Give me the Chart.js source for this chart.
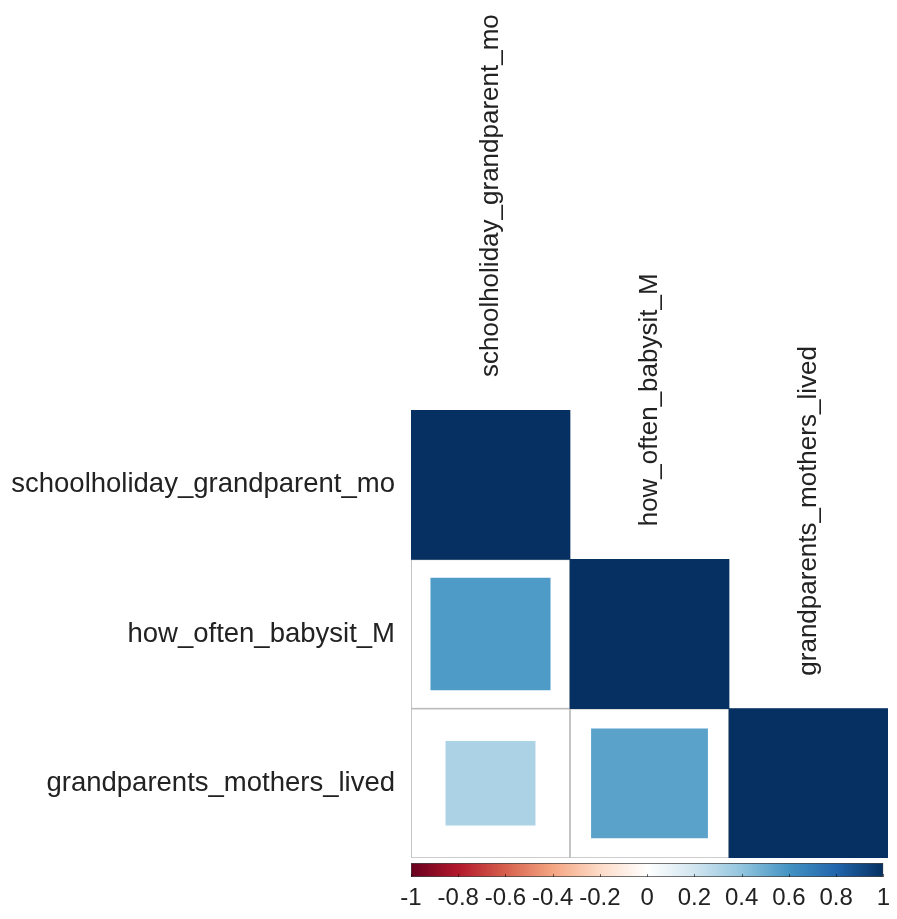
<!DOCTYPE html>
<html>
<head>
<meta charset="utf-8">
<script src="https://cdn.jsdelivr.net/npm/chart.js@4"></script>
<style>
  html, body { margin: 0; padding: 0; background: #fff; }
  #wrap { position: relative; width: 897px; height: 919px; }
  #matrixBox { position: absolute; left: 0; top: 0; width: 897px; height: 860px; }
  #barBox { position: absolute; left: 0; top: 858px; width: 897px; height: 61px; }
</style>
</head>
<body>
<div id="wrap">
  <div id="matrixBox"><canvas id="matrix"></canvas></div>
  <div id="barBox"><canvas id="colorbar"></canvas></div>
</div>
<script>
// variable names (rows top to bottom, columns left to right)
const vars = ["schoolholiday_grandparent_mo", "how_often_babysit_M", "grandparents_mothers_lived"];

// lower triangle of the correlation matrix, one row per variable
const corrRow1 = [1];
const corrRow2 = [0.57, 1];
const corrRow3 = [0.32, 0.54, 1];
const corrRows = [corrRow1, corrRow2, corrRow3];

// colour bar
const colorTicks = [-1, -0.8, -0.6, -0.4, -0.2, 0, 0.2, 0.4, 0.6, 0.8, 1];
const rdbu = ["#67001F", "#B2182B", "#D6604D", "#F4A582", "#FDDBC7", "#FFFFFF",
              "#D1E5F0", "#92C5DE", "#4393C3", "#2166AC", "#053061"];

const fontFamily = "'Liberation Sans', Arial, sans-serif";
const textColor = "#222";

function hexToRgb(h) {
  return [parseInt(h.slice(1, 3), 16), parseInt(h.slice(3, 5), 16), parseInt(h.slice(5, 7), 16)];
}

// map r in [-1, 1] onto the RdBu palette
function corrColor(r) {
  const pos = (r + 1) / 2 * (rdbu.length - 1);
  const i = Math.min(Math.floor(pos), rdbu.length - 2);
  const t = pos - i;
  const a = hexToRgb(rdbu[i]), b = hexToRgb(rdbu[i + 1]);
  const c = a.map((v, k) => Math.round(v + (b[k] - v) * t));
  return "rgb(" + c.join(",") + ")";
}

// cell backgrounds with grey borders, one dataset per column
const datasets = [];
vars.forEach((v, j) => {
  datasets.push({
    label: "cell " + j,
    data: vars.map((w, i) => i >= j ? [j - 0.5, j + 0.5] : null),
    backgroundColor: "#fff",
    borderColor: "#bdbdbd",
    borderWidth: 1.2,
    borderSkipped: false,
    barPercentage: 1,
    categoryPercentage: 1,
    grouped: false,
    order: 2
  });
});

// squares, side proportional to sqrt(|r|)
corrRows.forEach((row, i) => {
  row.forEach((r, j) => {
    const s = Math.sqrt(Math.abs(r));
    datasets.push({
      label: vars[i] + " / " + vars[j],
      data: vars.map((w, k) => k === i ? [j - s / 2, j + s / 2] : null),
      backgroundColor: corrColor(r),
      borderWidth: 0,
      barPercentage: s,
      categoryPercentage: 1,
      grouped: false,
      order: 1
    });
  });
});

// column labels, rotated, sitting above each diagonal cell
const columnLabels = {
  id: "columnLabels",
  afterDraw(chart) {
    const ctx = chart.ctx;
    const xs = chart.scales.x, ys = chart.scales.y;
    const rowH = ys.getPixelForValue(1) - ys.getPixelForValue(0);
    ctx.save();
    ctx.font = "26px " + fontFamily;
    ctx.fillStyle = textColor;
    ctx.textAlign = "left";
    ctx.textBaseline = "middle";
    vars.forEach((v, j) => {
      const x = xs.getPixelForValue(j);
      const y = ys.getPixelForValue(j) - rowH / 2 - 33;
      ctx.save();
      ctx.translate(x, y);
      ctx.rotate(-Math.PI / 2);
      ctx.fillText(v, 0, 0);
      ctx.restore();
    });
    ctx.restore();
  }
};

new Chart(document.getElementById("matrix").getContext("2d"), {
  type: "bar",
  data: { labels: vars, datasets: datasets },
  options: {
    indexAxis: "y",
    responsive: true,
    maintainAspectRatio: false,
    animation: false,
    layout: { padding: { top: 410, right: 9, bottom: 2, left: 0 } },
    plugins: { legend: { display: false }, tooltip: { enabled: false } },
    scales: {
      x: { type: "linear", min: -0.5, max: 2.5, display: false },
      y: {
        type: "category",
        grid: { display: false, drawTicks: false },
        border: { display: false },
        ticks: { color: textColor, font: { size: 27.5, family: fontFamily }, padding: 16 },
        afterFit: scale => {
          scale.width = 411;
          scale.paddingTop = 0;
          scale.paddingBottom = 0;
        }
      }
    }
  },
  plugins: [columnLabels]
});

// small tick marks inside the bottom edge of the colour bar
const barTicks = {
  id: "barTicks",
  afterDatasetsDraw(chart) {
    const ctx = chart.ctx;
    const xs = chart.scales.x;
    const bottom = chart.chartArea.bottom;
    ctx.save();
    ctx.strokeStyle = "rgba(0,0,0,0.55)";
    ctx.lineWidth = 1;
    colorTicks.forEach(t => {
      const x = Math.round(xs.getPixelForValue(t)) + 0.5;
      ctx.beginPath();
      ctx.moveTo(x, bottom - 3);
      ctx.lineTo(x, bottom);
      ctx.stroke();
    });
    ctx.restore();
  }
};

new Chart(document.getElementById("colorbar").getContext("2d"), {
  type: "bar",
  data: {
    labels: ["r"],
    datasets: [{
      data: [[colorTicks[0], colorTicks[colorTicks.length - 1]]],
      backgroundColor: ctx => {
        const area = ctx.chart.chartArea;
        if (!area) return "#fff";
        const g = ctx.chart.ctx.createLinearGradient(area.left, 0, area.right, 0);
        rdbu.forEach((c, i) => g.addColorStop(i / (rdbu.length - 1), c));
        return g;
      },
      borderColor: "#444",
      borderWidth: 1,
      borderSkipped: false,
      barPercentage: 1,
      categoryPercentage: 1
    }]
  },
  options: {
    indexAxis: "y",
    responsive: true,
    maintainAspectRatio: false,
    animation: false,
    layout: { padding: { top: 5, right: 9, bottom: 0, left: 411 } },
    plugins: { legend: { display: false }, tooltip: { enabled: false } },
    scales: {
      y: { display: false },
      x: {
        type: "linear",
        min: -1,
        max: 1,
        grid: { display: false, drawTicks: false },
        border: { display: false },
        afterBuildTicks: scale => { scale.ticks = colorTicks.map(v => ({ value: v })); },
        afterFit: scale => { scale.height = 42; },
        ticks: {
          autoSkip: false,
          maxRotation: 0,
          minRotation: 0,
          padding: 7,
          color: textColor,
          font: { size: 24, family: fontFamily },
          callback: v => String(v)
        }
      }
    }
  },
  plugins: [barTicks]
});
</script>
</body>
</html>
